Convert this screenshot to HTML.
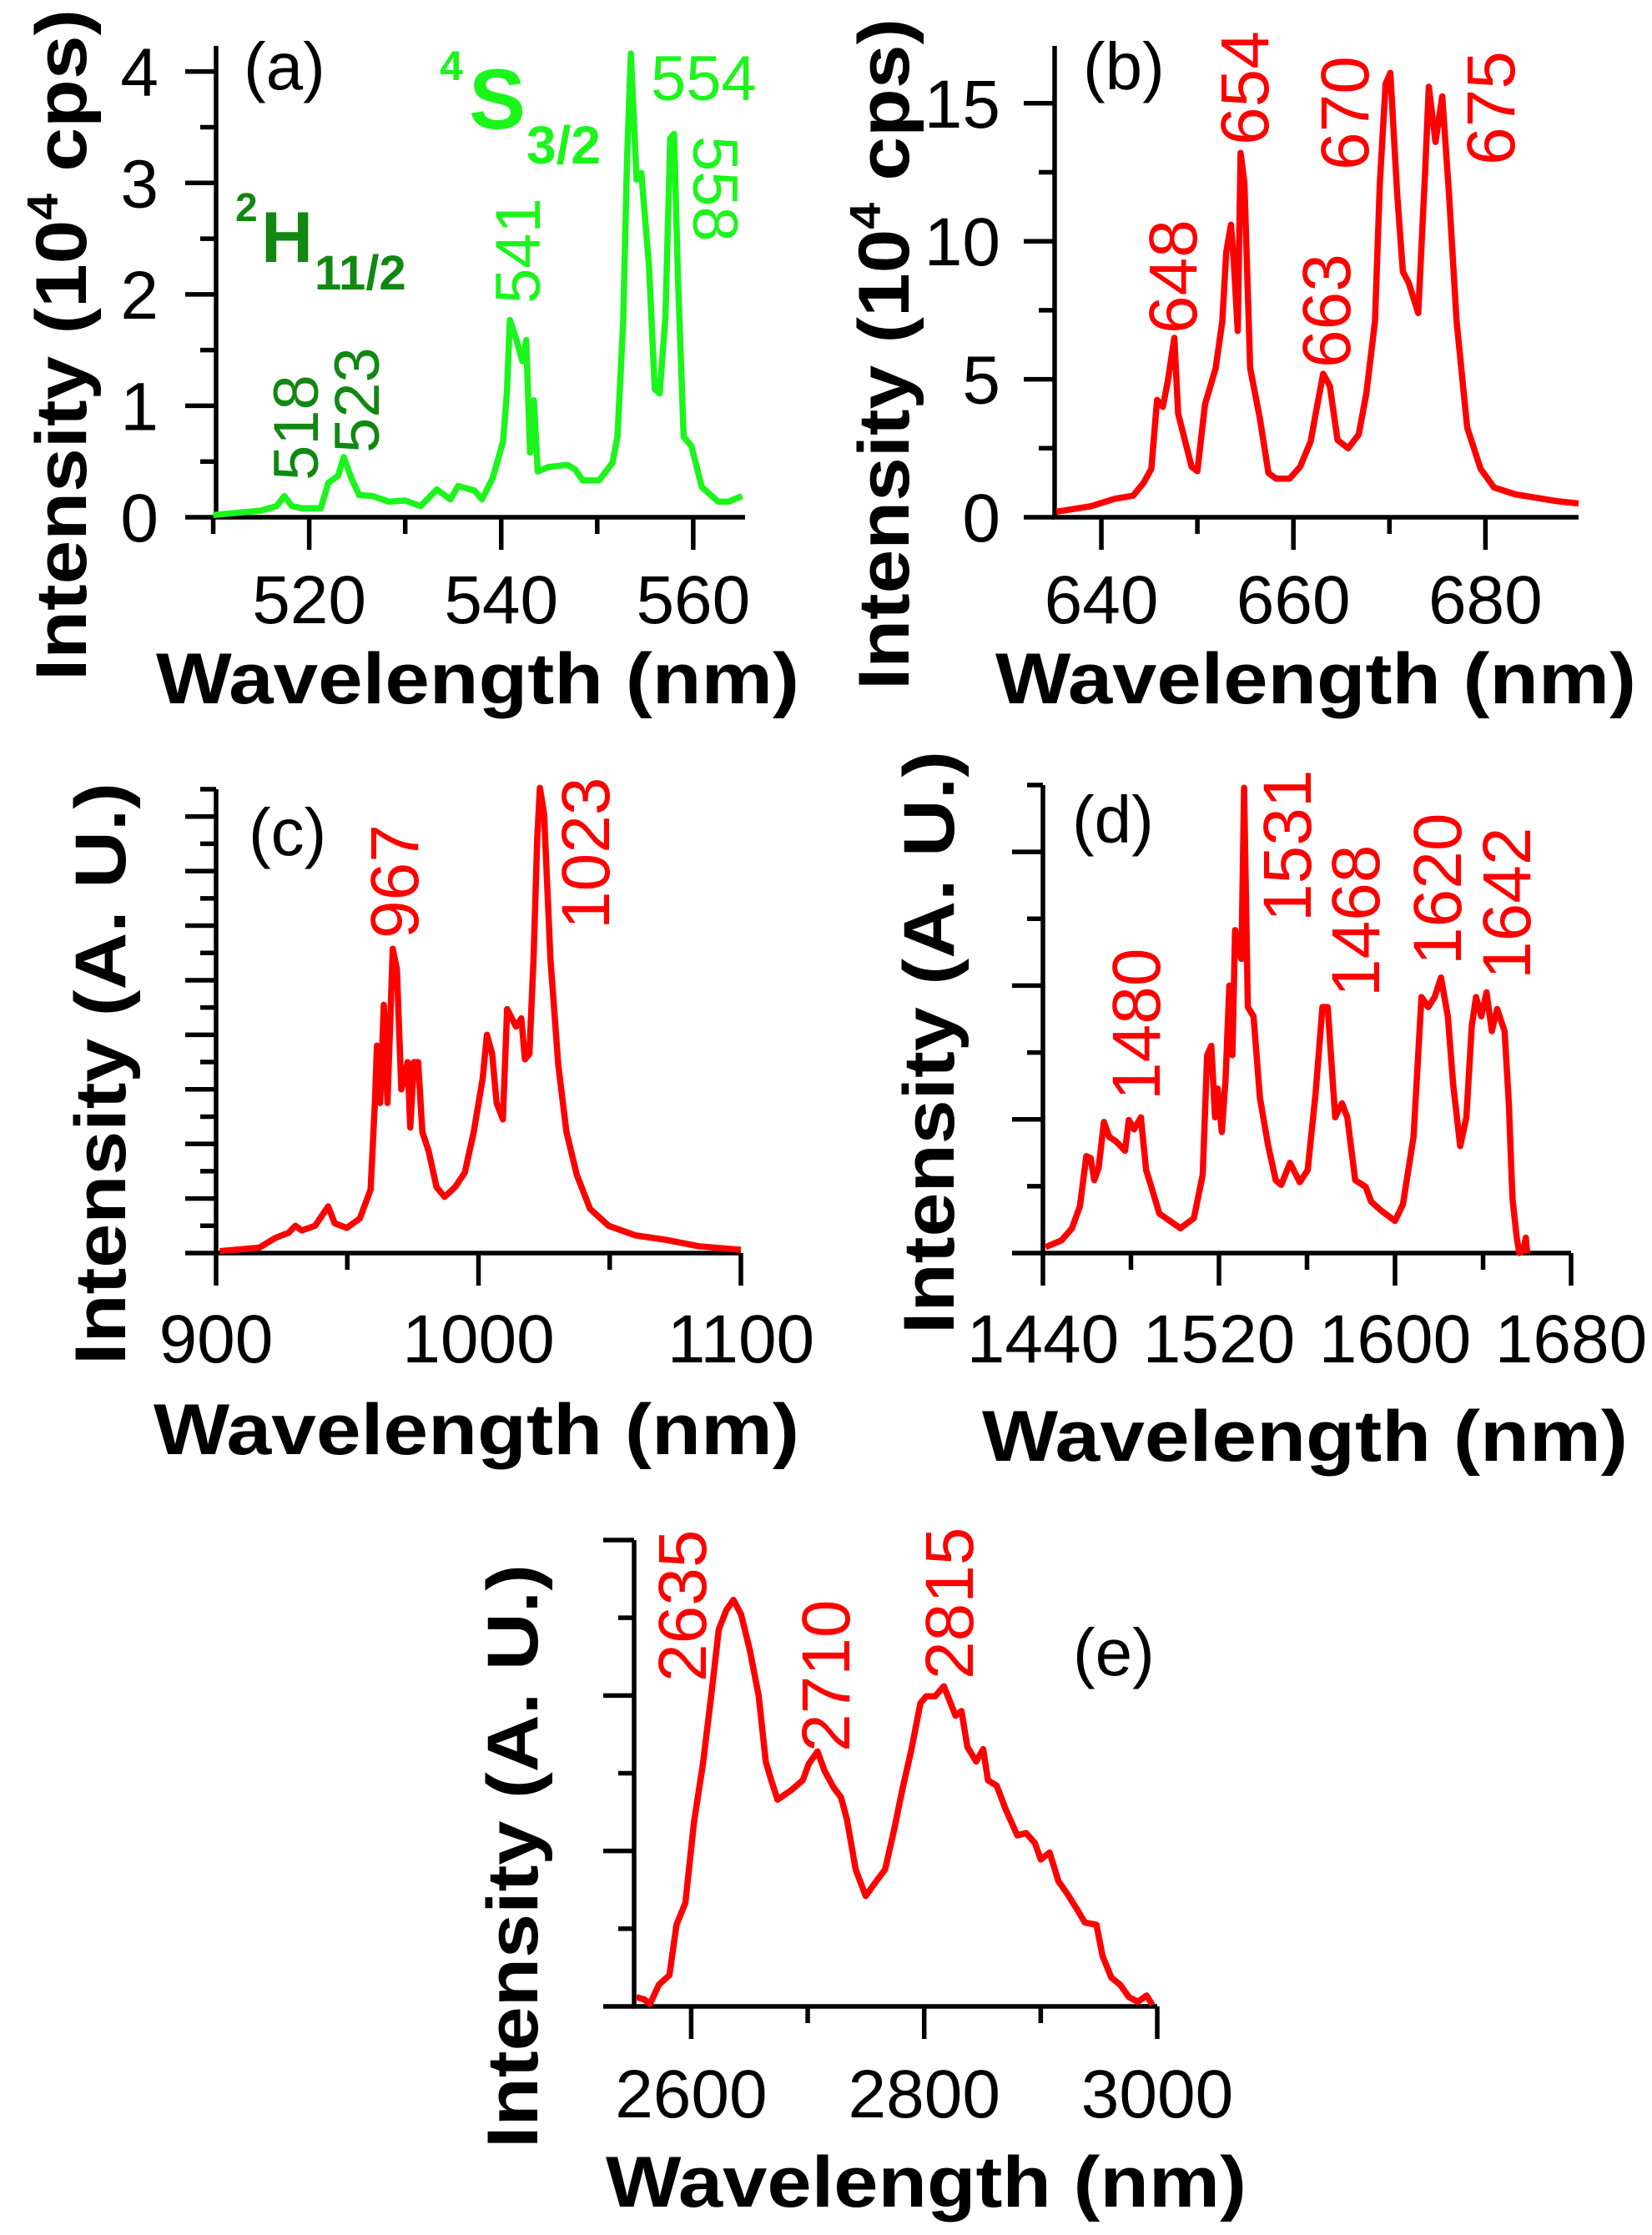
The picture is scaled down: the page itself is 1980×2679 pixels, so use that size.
<!DOCTYPE html>
<html><head><meta charset="utf-8"><title>Emission spectra</title>
<style>html,body{margin:0;padding:0;background:#fff}svg{display:block}text{font-family:"Liberation Sans",Arial,sans-serif}</style>
</head><body>
<svg id="fig" xmlns="http://www.w3.org/2000/svg" width="1980" height="2679" viewBox="0 0 1980 2679">
<g id="layer"></g>
</svg>
<script>
// ---- data (wavelength nm / intensity) ----
const aWl = [510,515,516.6,517.4,518.2,519.3,521.2,522,523,523.6,524.4,525.2,526.6,528.3,530,531.6,533.3,534.7,535.5,537.2,538,539.1,540.2,540.6,540.9,541.6,542.2,542.6,543,543.4,543.8,544.9,546.9,547.7,548.5,550.2,551.6,552.1,552.7,553.1,553.5,554.1,554.6,555.4,556,556.5,557.1,557.6,558,558.4,559,559.8,560.9,562.6,563.7,565.1];
const aVal = [0.02,0.06,0.1,0.19,0.1,0.08,0.08,0.31,0.37,0.54,0.35,0.2,0.19,0.14,0.15,0.1,0.25,0.16,0.28,0.24,0.16,0.35,0.68,1.13,1.77,1.59,1.4,1.59,0.58,1.05,0.41,0.45,0.47,0.43,0.33,0.33,0.49,0.72,1.75,3.2,4.16,3.03,3.09,2.25,1.15,1.11,1.79,3.4,3.44,2.16,0.72,0.64,0.27,0.14,0.14,0.19];
const bWl = [635.3,638.9,641.4,643.3,644.4,645.2,645.8,646.4,646.9,647.6,648,649.4,650,650.8,651.9,652.6,653,653.5,653.8,654.2,654.5,654.9,655.5,656.5,657.4,658.2,659.6,660.7,661.8,662.4,663.1,663.8,664.6,665.7,666.8,667.6,668.5,669,669.6,670.1,670.8,671.4,672,673,673.7,674.1,674.8,675.5,676.2,677,678.1,679.5,680.9,683.1,685.9,687.5,689.7];
const bVal = [0.2,0.4,0.67,0.78,1.25,1.75,4.25,4.0,4.9,6.5,3.75,1.83,1.67,4.1,5.4,7.1,9.6,10.6,9.2,6.75,13.2,12.1,5.4,3.6,1.6,1.4,1.4,1.83,2.75,3.9,5.2,4.75,2.8,2.5,3.0,4.5,7.1,12.1,15.7,16.1,11.75,8.9,8.5,7.4,12.4,15.6,13.6,15.25,11.75,7.1,3.25,1.75,1.08,0.83,0.67,0.58,0.5];
const cWl = [901.4,916.5,922.6,927.6,930.2,932.7,937.7,942.7,945.2,949.8,954.8,958.9,960.5,961.3,962.5,963.9,965.3,967.3,968.9,970.6,973,974,975.4,977,978.6,981,984,987.1,991.1,994.8,998.2,1001.6,1003.2,1005.2,1006.9,1009.3,1010.9,1012.3,1014.3,1016.3,1017.7,1019.4,1021,1022.4,1023.4,1025,1027.4,1030.4,1033.5,1037.5,1042.5,1049.6,1059.7,1071.8,1083.9,1100];
const cVal = [0.07,0.2,0.56,0.74,1.0,0.83,1.0,1.71,1.09,0.92,1.27,2.33,5.5,7.6,5.5,9.1,5.5,11.15,10.4,6.0,7.0,4.6,7.0,7.0,4.44,3.74,2.42,2.06,2.42,2.95,4.44,6.4,8.0,7.3,5.5,4.9,8.94,8.68,8.3,8.6,7.1,7.3,10.8,15.2,17.05,16.1,10.8,6.9,4.44,2.86,1.62,1.0,0.65,0.48,0.25,0.12];
const dWl = [1441.2,1448.4,1453.2,1456.8,1459.7,1461.7,1463.3,1465.3,1467.7,1470.1,1473.2,1477.3,1479,1481.4,1484.5,1486.9,1489.3,1492.9,1497.7,1502.5,1508.6,1512.6,1514.6,1516.5,1518.2,1519.4,1521.3,1523,1524.7,1526.1,1527.3,1529,1530.2,1531.4,1533.1,1535.7,1538.6,1542.2,1545.8,1548.3,1552.3,1556.7,1560.3,1563.9,1567,1569.4,1572.8,1575.9,1578.3,1581.9,1586.7,1589.1,1593.9,1600,1603.6,1608.4,1612,1615.1,1618,1620.9,1624,1626.4,1629.6,1632.4,1634.9,1636.8,1639.2,1641.6,1644,1646.4,1649.8,1651.7,1653.4,1655.3,1656.5,1658.4,1659.4,1660.1];
const dVal = [0.09,0.19,0.37,0.7,1.45,1.42,1.09,1.27,1.96,1.74,1.67,1.53,1.99,1.85,2.03,1.24,0.99,0.59,0.48,0.37,0.52,1.17,2.96,3.1,2.03,2.46,1.81,2.6,4.0,2.96,4.83,4.55,4.4,6.96,3.68,3.54,2.32,1.63,1.09,1.02,1.35,1.06,1.24,2.39,3.68,3.68,2.03,2.24,2.03,1.09,0.99,0.77,0.63,0.48,0.73,1.74,3.83,3.68,3.83,4.12,3.54,2.53,1.6,2.03,3.4,3.83,3.54,3.9,3.32,3.65,3.32,2.24,0.81,0.23,0,0.05,0.23,0];
const eWl = [2553,2559.7,2564.7,2572.3,2581.3,2587.4,2595,2602.5,2610.1,2617.6,2623.7,2630.3,2636.3,2642.9,2650.4,2658,2664,2668.1,2674.1,2685.7,2695.8,2700.9,2708.4,2714.5,2722.5,2728.6,2733.6,2741.2,2749.8,2758.8,2766.4,2774,2781.5,2789.1,2796.7,2801.7,2809.3,2816.8,2821.9,2826.9,2832,2837,2844.6,2850.6,2854.7,2862.2,2869.8,2879.9,2887.4,2895,2900,2907.6,2915.2,2922.7,2930.3,2937.9,2947.9,2953,2960.6,2968.1,2975.7,2983.3,2990.8,2995.9];
const eVal = [0.12,0.09,0.03,0.28,0.4,1.05,1.33,2.38,3.12,4.05,4.85,5.1,5.23,5.04,4.58,3.99,3.15,2.94,2.66,2.78,2.91,3.12,3.28,3.03,2.81,2.69,2.41,1.76,1.42,1.61,1.76,2.26,2.81,3.31,3.9,3.99,3.99,4.12,3.93,3.74,3.8,3.34,3.15,3.31,2.91,2.84,2.54,2.2,2.23,2.1,1.89,1.98,1.61,1.45,1.27,1.08,1.05,0.65,0.37,0.28,0.12,0.06,0.14,0.02];
const aXTicks = [520,540,560], aYTicks = [0,1,2,3,4];
const bXTicks = [640,660,680], bYTicks = [0,5,10,15];
const cXTicks = [900,1000,1100];
const dXTicks = [1440,1520,1600,1680];
const eXTicks = [2600,2800,3000];

const NS='http://www.w3.org/2000/svg';
const layer=document.getElementById('layer');
function mk(tag,attrs,parent,text){const e=document.createElementNS(NS,tag);for(const k in attrs)e.setAttribute(k,attrs[k]);if(text!==undefined)e.textContent=text;(parent||layer).appendChild(e);return e;}

function panel(id,cfg){
  const g=mk('g',{});
  
  
  const sx=v=>cfg.px0+(v-cfg.x0)/(cfg.x1-cfg.x0)*(cfg.px1-cfg.px0);
  const sy=v=>cfg.py0-(v-0)/(cfg.y1)*(cfg.py0-cfg.py1);
  const ax=mk('path',{d:`M${cfg.px0},${cfg.py1} L${cfg.px0},${cfg.py0} L${cfg.px1},${cfg.py0}`,fill:'none',stroke:'#000','stroke-width':5.5},g);
  
  
  for(let v=cfg.xMinorStart; v<=cfg.x1+1e-6; v+=cfg.xMinor){
    const major=cfg.xTicks.some(t=>Math.abs(t-v)<1e-6);
    const x=sx(v);
    const t=mk('line',{x1:x,y1:cfg.py0,x2:x,y2:cfg.py0+(major?39:20),stroke:'#000','stroke-width':5.5},g);
    
    
  }
  cfg.xTicks.forEach(v=>{
    const t=mk('text',{x:sx(v),y:cfg.xLabelY,'font-size':82,'text-anchor':'middle'},g,String(v));
    
    
  });
  for(let v=0; v<=cfg.y1+1e-6; v+=cfg.yMinor){
    const major=Math.abs(v/cfg.yMajor-Math.round(v/cfg.yMajor))<1e-6;
    const y=sy(v);
    const t=mk('line',{x1:cfg.px0-(major?37:19),y1:y,x2:cfg.px0,y2:y,stroke:'#000','stroke-width':5.5},g);
    
    
  }
  if(cfg.yTicks) cfg.yTicks.forEach(v=>{
    const t=mk('text',{x:cfg.yLabelX,y:sy(v)+29,'font-size':82,'text-anchor':'end'},g,String(v));
    
    
  });
  let d='';
  cfg.wl.forEach((w,i)=>{d+=(i?'L':'M')+sx(w).toFixed(1)+','+sy(cfg.val[i]).toFixed(1);});
  const ln=mk('path',{d:d,fill:'none',stroke:cfg.color,'stroke-width':7.5,'stroke-linejoin':'round'},g);
  
  
  return g;
}

panel('a',{px0:259,px1:893,x0:510.3,x1:565.4,py0:620,py1:55,y1:4.23,xTicks:aXTicks,xMinor:10,xMinorStart:510,yMajor:1,yMinor:0.5,yTicks:aYTicks,yLabelX:190,xLabelY:747,wl:aWl,val:aVal,color:'#1cf51c'});
panel('b',{px0:1264,px1:1892,x0:635.13,x1:689.7,py0:620,py1:55,y1:17.08,xTicks:bXTicks,xMinor:10,xMinorStart:640,yMajor:5,yMinor:2.5,yTicks:bYTicks,yLabelX:1199,xLabelY:747,wl:bWl,val:bVal,color:'#ff0000'});
panel('c',{px0:259,px1:888,x0:900,x1:1100,py0:1502,py1:946,y1:17,xTicks:cXTicks,xMinor:50,xMinorStart:900,yMajor:2,yMinor:1,xLabelY:1633,wl:cWl,val:cVal,color:'#ff0000'});
panel('d',{px0:1250,px1:1883,x0:1440,x1:1680,py0:1502,py1:941,y1:7,xTicks:dXTicks,xMinor:40,xMinorStart:1440,yMajor:2,yMinor:1,xLabelY:1633,wl:dWl,val:dVal,color:'#ff0000'});
panel('e',{px0:760,px1:1387,x0:2551,x1:3000,py0:2405,py1:1846,y1:6,xTicks:eXTicks,xMinor:100,xMinorStart:2600,yMajor:2,yMinor:1,xLabelY:2538,wl:eWl,val:eVal,color:'#ff0000'});
</script>
<svg style="position:absolute;left:0;top:0" width="1980" height="2679" viewBox="0 0 1980 2679" xmlns="http://www.w3.org/2000/svg">
<style>text{font-family:"Liberation Sans",Arial,sans-serif}.ttl{font-weight:bold;font-size:86px}.pk{font-size:82px;fill:#ff0000}.pl{font-size:80px}</style>
<text class="ttl" x="187" y="843" textLength="771" lengthAdjust="spacingAndGlyphs">Wavelength (nm)</text>
<text class="ttl" transform="translate(103,816) rotate(-90)" textLength="805" lengthAdjust="spacingAndGlyphs">Intensity (10<tspan font-size="52" dy="-34">4</tspan><tspan dy="34"> cps)</tspan></text>
<text class="ttl" x="1193" y="843" textLength="768" lengthAdjust="spacingAndGlyphs">Wavelength (nm)</text>
<text class="ttl" transform="translate(1089,827) rotate(-90)" textLength="805" lengthAdjust="spacingAndGlyphs">Intensity (10<tspan font-size="52" dy="-34">4</tspan><tspan dy="34"> cps)</tspan></text>
<text class="ttl" x="184" y="1743" textLength="774" lengthAdjust="spacingAndGlyphs">Wavelength (nm)</text>
<text class="ttl" transform="translate(150,1636) rotate(-90)" textLength="698" lengthAdjust="spacingAndGlyphs">Intensity (A. U.)</text>
<text class="ttl" x="1177" y="1751" textLength="774" lengthAdjust="spacingAndGlyphs">Wavelength (nm)</text>
<text class="ttl" transform="translate(1143,1599) rotate(-90)" textLength="699" lengthAdjust="spacingAndGlyphs">Intensity (A. U.)</text>
<text class="ttl" x="726" y="2645" textLength="768" lengthAdjust="spacingAndGlyphs">Wavelength (nm)</text>
<text class="ttl" transform="translate(644,2575) rotate(-90)" textLength="700" lengthAdjust="spacingAndGlyphs">Intensity (A. U.)</text>
<text class="pl" x="292" y="107">(a)</text>
<text class="pl" x="1298" y="107">(b)</text>
<text class="pl" x="298" y="1025">(c)</text>
<text class="pl" x="1285" y="1010">(d)</text>
<text class="pl" x="1286" y="2008">(e)</text>
<text x="780" y="120" font-size="76" fill="#1cf51c">554</text>
<text transform="translate(647,364) rotate(-90)" font-size="76" fill="#1cf51c">541</text>
<text transform="translate(831,163) rotate(90)" font-size="76" fill="#1cf51c">558</text>
<text transform="translate(381,576) rotate(-90)" font-size="76" fill="#118811">518</text>
<text transform="translate(454,543) rotate(-90)" font-size="76" fill="#118811">523</text>
<g fill="#1cf51c" font-weight="bold">
<text x="527" y="96" font-size="50">4</text><text x="562" y="154" font-size="102">S</text><text x="631" y="196" font-size="64">3/2</text>
</g>
<g fill="#118811" font-weight="bold">
<text x="282" y="265" font-size="48">2</text><text x="313" y="314" font-size="86">H</text><text x="377" y="347" font-size="58">11/2</text>
</g>
<text class="pk" transform="translate(1434,400) rotate(-90)">648</text>
<text class="pk" transform="translate(1520,174) rotate(-90)">654</text>
<text class="pk" transform="translate(1618,441) rotate(-90)">663</text>
<text class="pk" transform="translate(1640,204) rotate(-90)">670</text>
<text class="pk" transform="translate(1815,198) rotate(-90)">675</text>
<text class="pk" transform="translate(501,1125) rotate(-90)">967</text>
<text class="pk" transform="translate(730,1114) rotate(-90)">1023</text>
<text class="pk" transform="translate(1390,1319) rotate(-90)">1480</text>
<text class="pk" transform="translate(1571,1105) rotate(-90)">1531</text>
<text class="pk" transform="translate(1653,1195) rotate(-90)">1468</text>
<text class="pk" transform="translate(1751,1157) rotate(-90)">1620</text>
<text class="pk" transform="translate(1834,1174) rotate(-90)">1642</text>
<text class="pk" transform="translate(846,2016) rotate(-90)">2635</text>
<text class="pk" transform="translate(1018,2100) rotate(-90)">2710</text>
<text class="pk" transform="translate(1166,2013) rotate(-90)">2815</text>
</svg>
<style>body{position:relative;width:1980px;height:2679px;overflow:hidden}</style>
</body></html>
